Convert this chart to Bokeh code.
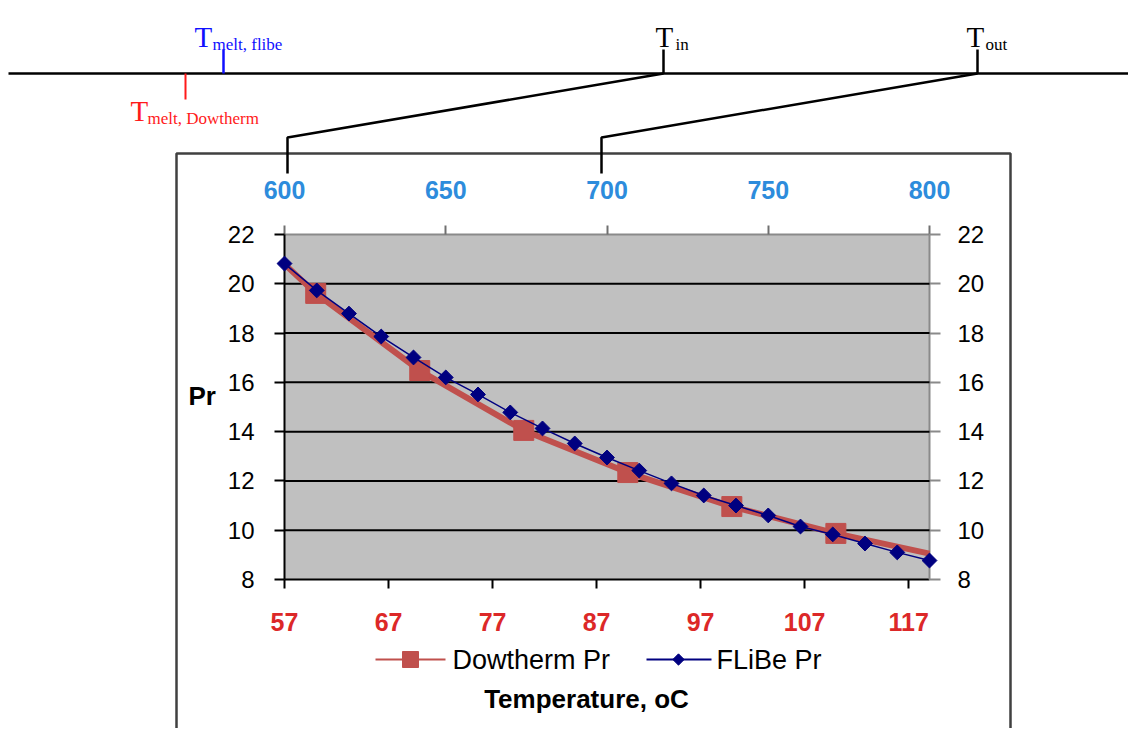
import numpy as np
from bokeh.plotting import figure
from bokeh.models import Range1d, LinearAxis, FixedTicker
from bokeh.core.properties import value
from bokeh.embed import file_html
from bokeh.resources import INLINE

# ---------------- data ----------------
flibe_temp = [600, 610, 620, 630, 640, 650, 660, 670, 680, 690, 700,
              710, 720, 730, 740, 750, 760, 770, 780, 790, 800]
flibe_pr = [20.82, 19.73, 18.79, 17.86, 17.01, 16.20, 15.51, 14.78, 14.13, 13.52, 12.95,
            12.42, 11.90, 11.41, 11.00, 10.60, 10.15, 9.83, 9.46, 9.10, 8.77]

dow_temp = [57, 60, 70, 80, 90, 100, 110, 119]
dow_pr = [20.80, 19.61, 16.48, 14.05, 12.34, 10.96, 9.87, 9.05]
dow_marker = [False, True, True, True, True, True, True, False]

top_ticks = [600, 650, 700, 750, 800]
bottom_ticks = [57, 67, 77, 87, 97, 107, 117]
pr_ticks = [8, 10, 12, 14, 16, 18, 20, 22]
grid_ticks = [10, 12, 14, 16, 18, 20]

top_range = (600, 800)
bottom_range = (57, 119)
pr_range = (8, 22)

series_names = ["Dowtherm Pr", "FLiBe Pr"]
x_title = "Temperature, oC"
y_title = "Pr"

timeline_labels = [  # (main, subscript, colour)
    ("T", "melt, flibe", "#1010ff"),
    ("T", "melt, Dowtherm", "#ff1a1a"),
    ("T", "in", "black"),
    ("T", "out", "black"),
]

# ---------------- layout (page pixels) ----------------
W, H = 1128, 728
PAGE_L, PAGE_T = 0, 0
PAGE_R, PAGE_B = PAGE_L + W, PAGE_T + H
PL, PR_, PT, PB = 284, 929, 234, 579   # plot area in page pixels


def frame_range(lo, hi, p_lo, p_hi, page_min, page_max):
    k = (hi - lo) / (p_hi - p_lo)
    return lo + (page_min - p_lo) * k, lo + (page_max - p_lo) * k


xs, xe = frame_range(bottom_range[0], bottom_range[1], PL, PR_, PAGE_L, PAGE_R)
ts, te = frame_range(top_range[0], top_range[1], PL, PR_, PAGE_L, PAGE_R)
ys, ye = frame_range(pr_range[0], pr_range[1], PB, PT, PAGE_B, PAGE_T)

p = figure(width=W, height=H, x_range=Range1d(xs, xe), y_range=Range1d(ys, ye),
           x_axis_type=None, y_axis_type=None, min_border=0,
           toolbar_location=None, tools="", output_backend="svg", title=None,
           outline_line_color=None, background_fill_color="white",
           border_fill_color="white")
p.extra_x_ranges = {"top": Range1d(ts, te), "px": Range1d(PAGE_L, PAGE_R)}
p.extra_y_ranges = {"py": Range1d(PAGE_B, PAGE_T)}

PX = dict(x_range_name="px", y_range_name="py")

# ---------------- decorations: timeline ----------------
p.line([PAGE_L + 8, PAGE_R + 10], [73, 73], line_color="black", line_width=2.5, **PX)
p.segment(x0=[223, 663, 977], y0=[49, 49, 49], x1=[223, 663, 977], y1=[73, 73, 73],
          line_color=["#1010ff", "black", "black"], line_width=2.5, **PX)
p.segment(x0=[185], y0=[73], x1=[185], y1=[99], line_color="#ff1a1a", line_width=2, **PX)
# chart box
p.line([176, 176, 1010, 1010], [760, 153, 153, 760], line_color="#404040", line_width=2.5, **PX)
# connectors
p.line([663, 287, 287], [73, 137, 173], line_color="black", line_width=2.5, **PX)
p.line([977, 601, 601], [73, 137, 173], line_color="black", line_width=2.5, **PX)

main_pos = [(194, 36), (130, 110), (655, 36), (966, 36)]
sub_pos = [(212, 44), (147, 118), (675, 44), (985, 44)]
for (m, s, c), (mx, my), (sx, sy) in zip(timeline_labels, main_pos, sub_pos):
    p.text(x=[mx], y=[my], text=[m], text_color=c, text_font=value("Liberation Serif"),
           text_font_size=value("29px"), text_baseline="alphabetic", text_align="left", **PX)
    p.text(x=[sx], y=[sy], text=[s], text_color=c, text_font=value("Liberation Serif"),
           text_font_size=value("17px"), text_baseline="alphabetic", text_align="left", **PX)

# ---------------- chart ----------------
p.quad(left=[bottom_range[0]], right=[bottom_range[1]], bottom=[pr_range[0]], top=[pr_range[1]],
       fill_color="#c0c0c0", line_color=None, level="image")
p.segment(x0=[bottom_range[0]] * len(grid_ticks), x1=[bottom_range[1]] * len(grid_ticks),
          y0=grid_ticks, y1=grid_ticks, line_color="black", line_width=2)

RED = "#c0504d"
NAVY = "#000080"
p.line(dow_temp, dow_pr, line_color=RED, line_width=6, line_join="round")
mt = [t for t, f in zip(dow_temp, dow_marker) if f]
mp = [v for v, f in zip(dow_pr, dow_marker) if f]
p.scatter(mt, mp, marker="square", size=20, fill_color=RED, line_color=RED)
p.line(flibe_temp, flibe_pr, line_color=NAVY, line_width=1.5, x_range_name="top")
p.scatter(flibe_temp, flibe_pr, marker="square", angle=np.pi / 4, size=10.5,
          fill_color=NAVY, line_color=NAVY, x_range_name="top")

label_font = "Liberation Sans"


def style(ax, line_color, tick_color, lab_color, bold, size, standoff, tick_out):
    ax.axis_line_color = line_color
    ax.axis_line_width = 2
    ax.major_tick_line_color = tick_color
    ax.major_tick_line_width = 2
    ax.major_tick_out = tick_out
    ax.major_tick_in = 0
    ax.minor_tick_out = 0
    ax.minor_tick_in = 0
    ax.major_label_text_color = lab_color
    ax.major_label_text_font = label_font
    ax.major_label_text_font_style = "bold" if bold else "normal"
    ax.major_label_text_font_size = size
    ax.major_label_standoff = standoff
    ax.level = "underlay"


bottom = LinearAxis(fixed_location=pr_range[0], bounds=bottom_range,
                    ticker=FixedTicker(ticks=bottom_ticks))
style(bottom, "black", "black", "#dc2828", True, "25px", 24, 9)
p.add_layout(bottom, "below")

top = LinearAxis(x_range_name="top", fixed_location=pr_range[1], bounds=top_range,
                 ticker=FixedTicker(ticks=top_ticks))
style(top, "#8a8a8a", "#707070", "#2d8cdc", True, "25px", 27, 9)
p.add_layout(top, "above")

left = LinearAxis(fixed_location=bottom_range[0], bounds=pr_range,
                  ticker=FixedTicker(ticks=pr_ticks))
style(left, "black", "black", "black", False, "24px", 20, 10)
p.add_layout(left, "left")

right = LinearAxis(fixed_location=bottom_range[1], bounds=pr_range,
                   ticker=FixedTicker(ticks=pr_ticks))
style(right, "#8a8a8a", "#8a8a8a", "black", False, "24px", 17, 11)
p.add_layout(right, "right")

# axis titles
p.text(x=[188], y=[395], text=[y_title], text_font=value(label_font), text_font_style="bold",
       text_font_size=value("26px"), text_baseline="middle", text_align="left", **PX)
p.text(x=[586], y=[698], text=[x_title], text_font=value(label_font), text_font_style="bold",
       text_font_size=value("26px"), text_baseline="middle", text_align="center", **PX)

# legend (drawn by hand)
LY = 659
p.line([375, 445], [LY, LY], line_color=RED, line_width=2, **PX)
p.scatter([410], [LY], marker="square", size=16, fill_color=RED, line_color=RED, **PX)
p.line([646, 711], [LY, LY], line_color=NAVY, line_width=2, **PX)
p.scatter([678], [LY], marker="square", angle=np.pi / 4, size=8, fill_color=NAVY,
          line_color=NAVY, **PX)
p.text(x=[452, 716], y=[LY, LY], text=series_names, text_font=value(label_font),
       text_font_size=value("27px"), text_baseline="middle", text_align="left", **PX)

open("out.html", "w").write(file_html(p, INLINE))
